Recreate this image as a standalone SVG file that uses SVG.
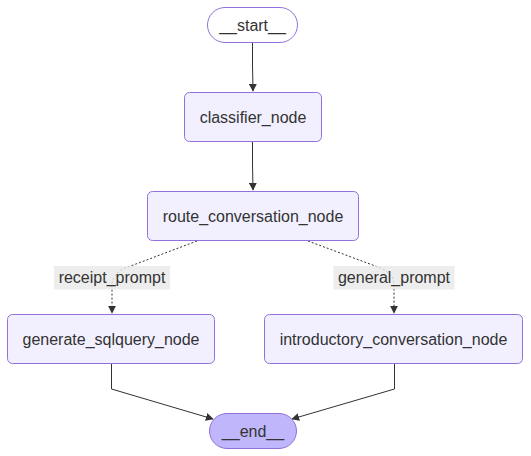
<svg xmlns="http://www.w3.org/2000/svg" width="531" height="456" viewBox="0 0 531 456">
<defs>
<marker id="arr" viewBox="0 0 10 10" refX="9" refY="5" markerWidth="8" markerHeight="8" markerUnits="userSpaceOnUse" orient="auto"><path d="M0,0 L10,5 L0,10 z" fill="#333"/></marker>
<style>
.n{fill:#f2f0ff;stroke:#9370db;stroke-width:1}
.t{font-family:"Liberation Sans",Arial,sans-serif;font-size:16px;fill:#333;text-anchor:middle;dominant-baseline:central}
.e{fill:none;stroke:#333;stroke-width:1}
.d{stroke-dasharray:2 2}
.lb{fill:#e8e8e8;fill-opacity:0.8}
</style>
</defs>
<rect width="531" height="456" fill="#fff"/>
<g id="edges">
<path class="e" d="M252.5,42 L252.5,66 L253,91" marker-end="url(#arr)"/>
<path class="e" d="M252.5,141 L252.5,165 L253,190" marker-end="url(#arr)"/>
<path class="e d" d="M197,241 L128,267 Q112,273 112,285 L112,313" marker-end="url(#arr)"/>
<path class="e d" d="M308,241 L378,267 Q394,273 394,285 L394,313" marker-end="url(#arr)"/>
<path class="e" d="M111.5,364 L111.5,389 L213,419" marker-end="url(#arr)"/>
<path class="e" d="M394.5,364 L394.5,389 L292,419" marker-end="url(#arr)"/>
</g>
<g id="label-receipt"><rect class="lb" x="54" y="266" width="116" height="23.5"/><text class="t" x="112" y="277.5">receipt_prompt</text></g>
<g id="label-general"><rect class="lb" x="333.5" y="266" width="121" height="23.5"/><text class="t" x="394" y="277.5">general_prompt</text></g>
<g id="start"><rect x="207.5" y="7.5" width="90" height="35" rx="17.5" fill="#fff" stroke="#9370db"/><text class="t" x="252.5" y="25">__start__</text></g>
<g id="classifier_node"><rect class="n" x="184.5" y="92.5" width="137" height="49" rx="5"/><text class="t" x="253" y="117">classifier_node</text></g>
<g id="route_conversation_node"><rect class="n" x="147.5" y="191.5" width="211" height="49" rx="5"/><text class="t" x="253" y="216">route_conversation_node</text></g>
<g id="generate_sqlquery_node"><rect class="n" x="7.5" y="314.5" width="207" height="49" rx="5"/><text class="t" x="111" y="339">generate_sqlquery_node</text></g>
<g id="introductory_conversation_node"><rect class="n" x="264.5" y="314.5" width="258" height="49" rx="5"/><text class="t" x="393.5" y="339">introductory_conversation_node</text></g>
<g id="end"><rect x="209.5" y="413.5" width="87" height="35" rx="17.5" fill="#bfb6fc" stroke="#9370db"/><text class="t" x="253" y="431">__end__</text></g>
</svg>
